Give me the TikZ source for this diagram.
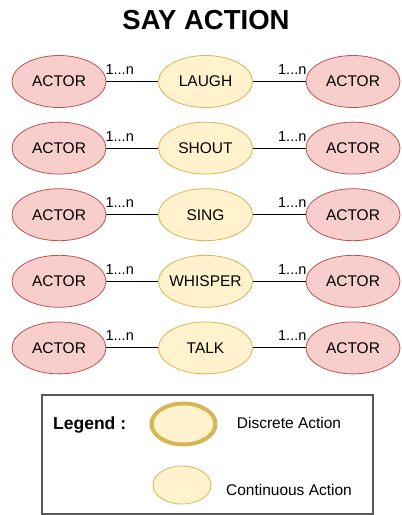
\documentclass[tikz,border=0pt]{standalone}
\usepackage{fontspec}
\setmainfont{Liberation Sans}
\usetikzlibrary{shapes.geometric}
\definecolor{actfill}{HTML}{F8CECC}
\definecolor{actline}{HTML}{B85450}
\definecolor{yfill}{HTML}{FFF2CC}
\definecolor{yline}{HTML}{D6B656}
\begin{document}
\begin{tikzpicture}[x=1pt,y=-1pt,
  actor/.style={ellipse,draw=actline,fill=actfill,line width=0.8pt,minimum width=94pt,minimum height=52pt,inner sep=0pt,font=\fontsize{15.5}{18}\selectfont},
  action/.style={ellipse,draw=yline,fill=yfill,line width=0.8pt,minimum width=94pt,minimum height=52pt,inner sep=0pt,font=\fontsize{15.5}{18}\selectfont},
  link/.style={draw=black,line width=0.9pt},
  mult/.style={font=\fontsize{14.5}{16}\selectfont,inner sep=0pt},
  lgtext/.style={font=\fontsize{15.5}{18}\selectfont,inner sep=0pt}]
\useasboundingbox (0,0) rectangle (402,515);
\node[font=\fontsize{27.5}{30}\selectfont\bfseries] (title) at (206,20) {SAY ACTION};
\foreach \i/\w in {1/LAUGH,2/SHOUT,3/SING,4/WHISPER,5/TALK}{
  \pgfmathsetmacro{\yy}{81.5+(\i-1)*66.6}
  \node[actor] (l\i) at (59,\yy) {\makebox[0pt]{ACTOR}};
  \node[action] (a\i) at (205.5,\yy) {\makebox[0pt]{\w}};
  \node[actor] (r\i) at (353,\yy) {\makebox[0pt]{ACTOR}};
  \draw[link] (l\i) -- (a\i);
  \draw[link] (a\i) -- (r\i);
  \node[mult,anchor=base west] (ml\i) at ([xshift=-1pt,yshift=7pt]l\i.east) {1...n};
  \node[mult,anchor=base east] (mr\i) at ([xshift=1pt,yshift=7pt]r\i.west) {1...n};
}
\node[draw=black!65,line width=1.2pt,minimum width=331pt,minimum height=119pt,inner sep=0pt] (legend) at (207.5,454.5) {};
\node[font=\fontsize{17.5}{20}\selectfont\bfseries,anchor=west,inner sep=0pt] (lgtitle) at (53,425.5) {Legend :};
\node[ellipse,draw=yline,fill=yfill,line width=4pt,minimum width=64pt,minimum height=41pt,inner sep=0pt] (disc) at (183.5,424) {};
\node[lgtext] (disct) at (289,423) {Discrete Action};
\node[ellipse,draw=yline,fill=yfill,line width=0.8pt,minimum width=58pt,minimum height=38pt,inner sep=0pt] (cont) at (182,485) {};
\node[lgtext] (contt) at (289,490) {Continuous Action};
\end{tikzpicture}
\end{document}
